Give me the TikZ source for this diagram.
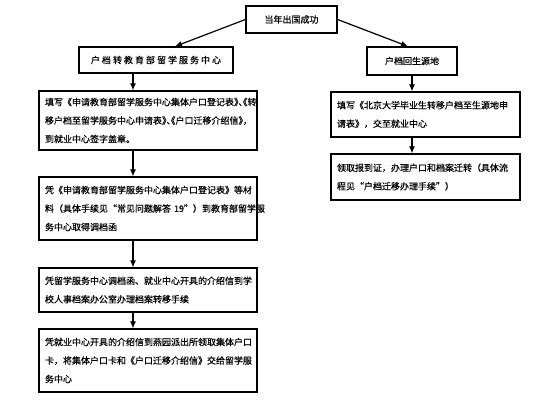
\documentclass[tikz,border=0pt]{standalone}
\usepackage{fontspec}
\setmainfont{Noto Sans CJK SC}[FakeBold=0.5]
\newfontfamily\halfw{Noto Sans CJK SC}[RawFeature=+halt, FakeBold=0.5]
\newcommand\hw[1]{{\halfw #1}}
\usetikzlibrary{arrows.meta}

\begin{document}
\begin{tikzpicture}[x=1pt, y=-1pt,
  every node/.style={font=\fontsize{9}{18.5}\selectfont},
  box/.style={draw, line width=1.2pt, inner xsep=6pt, inner ysep=0pt},
  title/.style={box, minimum height=27pt, align=center},
  lstep/.style={box, text width=206pt, align=left},
  rstep/.style={box, text width=177pt, align=left},
  arr/.style={line width=1.2pt, -{Latex[length=7pt,width=6pt]}}]
  \useasboundingbox (0,0) rectangle (558,404);
  \node[title, minimum width=91pt] (start) at (291.5,19.5) {当年出国成功};
  \node[title, minimum width=154pt, minimum height=26pt] (hub) at (156,60)
    {户 档 转 教 育 部 留 学 服 务 中 心};
  \node[title, minimum width=90pt, minimum height=28pt] (rhub) at (412,61)
    {户档回生源地};
  \node[lstep, minimum height=59pt] (l1) at (148,120.5)
    {填写《申请教育部留学服务中心集体户口登记表\hw{》、《}转\\
     移户档至留学服务中心申请表\hw{》、《}户口迁移介绍信\hw{》，}\\
     到就业中心签字盖章。};
  \node[lstep, minimum height=63pt] (l2) at (148,208.5)
    {凭《申请教育部留学服务中心集体户口登记表》等材\\
     \mbox{料（具体手续见“常见问题解答~19”）到教育部留学服}\\
     务中心取得调档函};
  \node[lstep, minimum height=44pt] (l3) at (148,290)
    {凭留学服务中心调档函、就业中心开具的介绍信到学\\
     校人事档案办公室办理档案转移手续};
  \node[lstep, minimum height=63pt] (l4) at (148,360.5)
    {凭就业中心开具的介绍信到燕园派出所领取集体户口\\
     卡，将集体户口卡和《户口迁移介绍信》交给留学服\\
     务中心};
  \node[rstep, minimum height=45pt] (r1) at (425.5,114.5)
    {填写《北京大学毕业生转移户档至生源地申\\
     请表》，交至就业中心};
  \node[rstep, minimum height=46pt] (r2) at (425.5,177)
    {领取报到证，办理户口和档案迁转（具体流\\
     程见“户档迁移办理手续”）};
  \coordinate (lx) at (133,0);
  \foreach \a/\b in {hub/l1,l1/l2,l2/l3,l3/l4}
    \draw[arr] (\a.south -| lx) -- (\b.north -| lx);
  \draw[arr] (rhub.south) -- (r1.north -| rhub.south);
  \draw[arr] (r1.south -| rhub.south) -- (r2.north -| rhub.south);
  \draw[arr] (start.west) -- ([xshift=19pt]hub.north);
  \draw[arr] (start.east) -- ([xshift=-4pt]rhub.north);
\end{tikzpicture}
\end{document}
